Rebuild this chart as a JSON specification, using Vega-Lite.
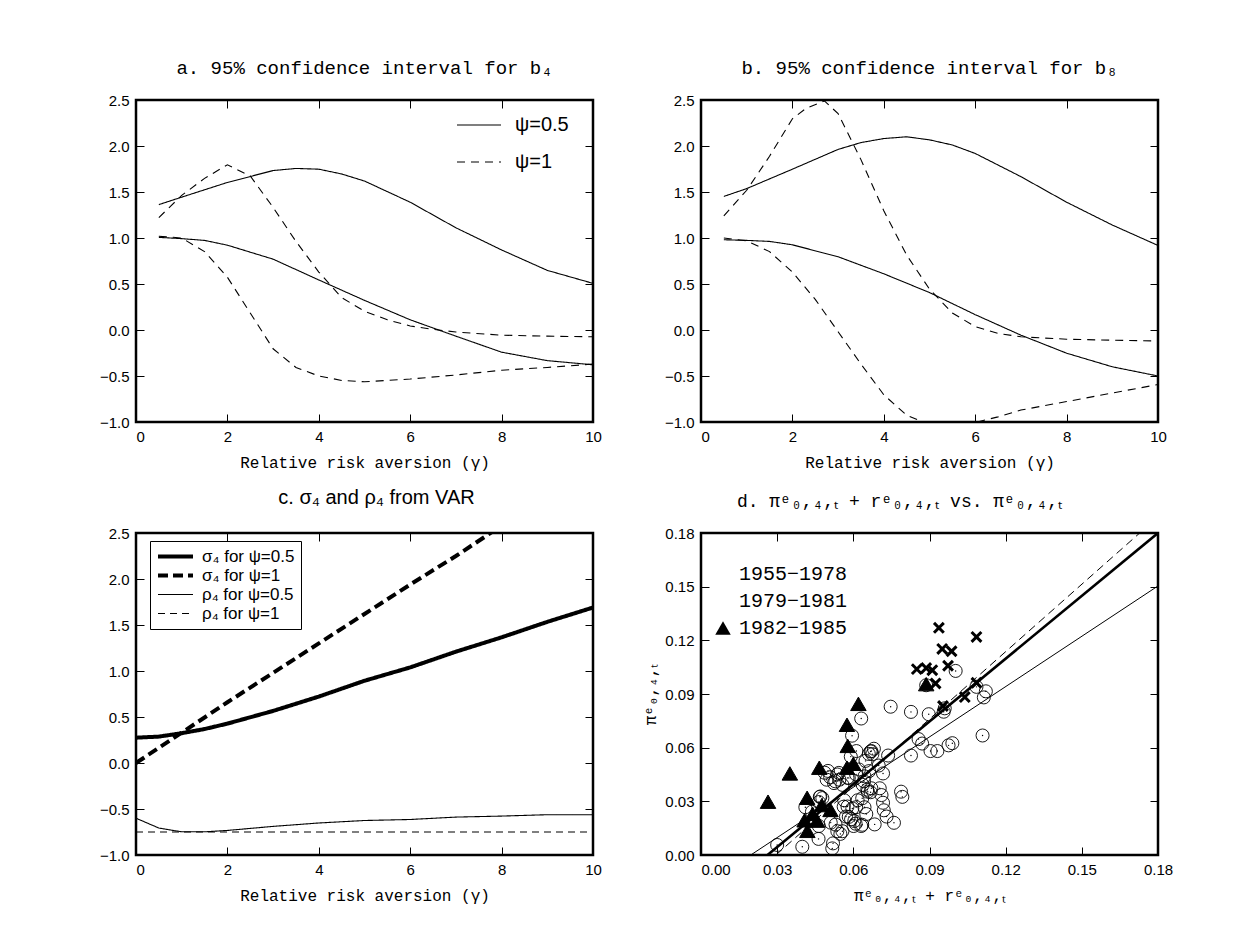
{
"$schema":"https://vega.github.io/schema/vega-lite/v6.json",
"background":"white",
"padding":{"left":98,"top":57,"right":5,"bottom":5},
"columns":2,
"bounds":"flush",
"spacing":{"row":111,"column":108},
"resolve":{"scale":{"x":"independent","y":"independent","strokeDash":"independent","strokeWidth":"independent","shape":"independent","fill":"independent","size":"independent"},"legend":{"strokeDash":"independent","strokeWidth":"independent","shape":"independent","fill":"independent","size":"independent"}},
"datasets":{
"a":[
{"g":0.5,"v":1.363,"psi":"ψ=0.5","bound":"u"},{"g":1,"v":1.444,"psi":"ψ=0.5","bound":"u"},{"g":2,"v":1.604,"psi":"ψ=0.5","bound":"u"},{"g":3,"v":1.733,"psi":"ψ=0.5","bound":"u"},{"g":3.5,"v":1.756,"psi":"ψ=0.5","bound":"u"},{"g":4,"v":1.748,"psi":"ψ=0.5","bound":"u"},{"g":4.5,"v":1.696,"psi":"ψ=0.5","bound":"u"},{"g":5,"v":1.619,"psi":"ψ=0.5","bound":"u"},{"g":6,"v":1.389,"psi":"ψ=0.5","bound":"u"},{"g":7,"v":1.111,"psi":"ψ=0.5","bound":"u"},{"g":8,"v":0.87,"psi":"ψ=0.5","bound":"u"},{"g":9,"v":0.648,"psi":"ψ=0.5","bound":"u"},{"g":10,"v":0.507,"psi":"ψ=0.5","bound":"u"},
{"g":0.5,"v":1.007,"psi":"ψ=0.5","bound":"l"},{"g":1,"v":0.993,"psi":"ψ=0.5","bound":"l"},{"g":1.5,"v":0.974,"psi":"ψ=0.5","bound":"l"},{"g":2,"v":0.922,"psi":"ψ=0.5","bound":"l"},{"g":3,"v":0.77,"psi":"ψ=0.5","bound":"l"},{"g":4,"v":0.544,"psi":"ψ=0.5","bound":"l"},{"g":5,"v":0.322,"psi":"ψ=0.5","bound":"l"},{"g":6,"v":0.111,"psi":"ψ=0.5","bound":"l"},{"g":7,"v":-0.067,"psi":"ψ=0.5","bound":"l"},{"g":8,"v":-0.241,"psi":"ψ=0.5","bound":"l"},{"g":9,"v":-0.333,"psi":"ψ=0.5","bound":"l"},{"g":10,"v":-0.378,"psi":"ψ=0.5","bound":"l"},
{"g":0.5,"v":1.222,"psi":"ψ=1","bound":"u"},{"g":1,"v":1.463,"psi":"ψ=1","bound":"u"},{"g":1.5,"v":1.648,"psi":"ψ=1","bound":"u"},{"g":2,"v":1.796,"psi":"ψ=1","bound":"u"},{"g":2.5,"v":1.674,"psi":"ψ=1","bound":"u"},{"g":3,"v":1.333,"psi":"ψ=1","bound":"u"},{"g":3.5,"v":0.963,"psi":"ψ=1","bound":"u"},{"g":4,"v":0.63,"psi":"ψ=1","bound":"u"},{"g":4.5,"v":0.352,"psi":"ψ=1","bound":"u"},{"g":5,"v":0.204,"psi":"ψ=1","bound":"u"},{"g":5.5,"v":0.111,"psi":"ψ=1","bound":"u"},{"g":6,"v":0.044,"psi":"ψ=1","bound":"u"},{"g":6.5,"v":0.007,"psi":"ψ=1","bound":"u"},{"g":7,"v":-0.022,"psi":"ψ=1","bound":"u"},{"g":8,"v":-0.056,"psi":"ψ=1","bound":"u"},{"g":9,"v":-0.067,"psi":"ψ=1","bound":"u"},{"g":10,"v":-0.074,"psi":"ψ=1","bound":"u"},
{"g":0.5,"v":1.019,"psi":"ψ=1","bound":"l"},{"g":1,"v":1.0,"psi":"ψ=1","bound":"l"},{"g":1.5,"v":0.852,"psi":"ψ=1","bound":"l"},{"g":2,"v":0.574,"psi":"ψ=1","bound":"l"},{"g":2.5,"v":0.185,"psi":"ψ=1","bound":"l"},{"g":3,"v":-0.204,"psi":"ψ=1","bound":"l"},{"g":3.5,"v":-0.407,"psi":"ψ=1","bound":"l"},{"g":4,"v":-0.5,"psi":"ψ=1","bound":"l"},{"g":4.5,"v":-0.548,"psi":"ψ=1","bound":"l"},{"g":5,"v":-0.563,"psi":"ψ=1","bound":"l"},{"g":6,"v":-0.533,"psi":"ψ=1","bound":"l"},{"g":7,"v":-0.489,"psi":"ψ=1","bound":"l"},{"g":8,"v":-0.437,"psi":"ψ=1","bound":"l"},{"g":9,"v":-0.407,"psi":"ψ=1","bound":"l"},{"g":10,"v":-0.37,"psi":"ψ=1","bound":"l"}
],
"b":[
{"g":0.5,"v":1.452,"psi":"ψ=0.5","bound":"u"},{"g":1,"v":1.537,"psi":"ψ=0.5","bound":"u"},{"g":2,"v":1.748,"psi":"ψ=0.5","bound":"u"},{"g":3,"v":1.963,"psi":"ψ=0.5","bound":"u"},{"g":3.5,"v":2.037,"psi":"ψ=0.5","bound":"u"},{"g":4,"v":2.081,"psi":"ψ=0.5","bound":"u"},{"g":4.5,"v":2.1,"psi":"ψ=0.5","bound":"u"},{"g":5,"v":2.067,"psi":"ψ=0.5","bound":"u"},{"g":5.5,"v":2.011,"psi":"ψ=0.5","bound":"u"},{"g":6,"v":1.919,"psi":"ψ=0.5","bound":"u"},{"g":7,"v":1.667,"psi":"ψ=0.5","bound":"u"},{"g":8,"v":1.389,"psi":"ψ=0.5","bound":"u"},{"g":9,"v":1.141,"psi":"ψ=0.5","bound":"u"},{"g":10,"v":0.919,"psi":"ψ=0.5","bound":"u"},
{"g":0.5,"v":0.981,"psi":"ψ=0.5","bound":"l"},{"g":1,"v":0.974,"psi":"ψ=0.5","bound":"l"},{"g":1.5,"v":0.963,"psi":"ψ=0.5","bound":"l"},{"g":2,"v":0.926,"psi":"ψ=0.5","bound":"l"},{"g":3,"v":0.796,"psi":"ψ=0.5","bound":"l"},{"g":4,"v":0.611,"psi":"ψ=0.5","bound":"l"},{"g":5,"v":0.407,"psi":"ψ=0.5","bound":"l"},{"g":6,"v":0.167,"psi":"ψ=0.5","bound":"l"},{"g":7,"v":-0.056,"psi":"ψ=0.5","bound":"l"},{"g":8,"v":-0.252,"psi":"ψ=0.5","bound":"l"},{"g":9,"v":-0.4,"psi":"ψ=0.5","bound":"l"},{"g":10,"v":-0.5,"psi":"ψ=0.5","bound":"l"},
{"g":0.5,"v":1.241,"psi":"ψ=1","bound":"u"},{"g":1,"v":1.519,"psi":"ψ=1","bound":"u"},{"g":1.5,"v":1.889,"psi":"ψ=1","bound":"u"},{"g":2,"v":2.296,"psi":"ψ=1","bound":"u"},{"g":2.3,"v":2.41,"psi":"ψ=1","bound":"u"},{"g":2.7,"v":2.49,"psi":"ψ=1","bound":"u"},{"g":3,"v":2.352,"psi":"ψ=1","bound":"u"},{"g":3.5,"v":1.852,"psi":"ψ=1","bound":"u"},{"g":4,"v":1.296,"psi":"ψ=1","bound":"u"},{"g":4.5,"v":0.815,"psi":"ψ=1","bound":"u"},{"g":5,"v":0.444,"psi":"ψ=1","bound":"u"},{"g":5.5,"v":0.185,"psi":"ψ=1","bound":"u"},{"g":6,"v":0.037,"psi":"ψ=1","bound":"u"},{"g":6.5,"v":-0.037,"psi":"ψ=1","bound":"u"},{"g":7,"v":-0.074,"psi":"ψ=1","bound":"u"},{"g":8,"v":-0.1,"psi":"ψ=1","bound":"u"},{"g":9,"v":-0.111,"psi":"ψ=1","bound":"u"},{"g":10,"v":-0.119,"psi":"ψ=1","bound":"u"},
{"g":0.5,"v":1.0,"psi":"ψ=1","bound":"l"},{"g":1,"v":0.97,"psi":"ψ=1","bound":"l"},{"g":1.5,"v":0.852,"psi":"ψ=1","bound":"l"},{"g":2,"v":0.63,"psi":"ψ=1","bound":"l"},{"g":2.5,"v":0.333,"psi":"ψ=1","bound":"l"},{"g":3,"v":-0.019,"psi":"ψ=1","bound":"l"},{"g":3.5,"v":-0.37,"psi":"ψ=1","bound":"l"},{"g":4,"v":-0.704,"psi":"ψ=1","bound":"l"},{"g":4.5,"v":-0.926,"psi":"ψ=1","bound":"l"},{"g":5,"v":-1.03,"psi":"ψ=1","bound":"l"},{"g":5.5,"v":-1.06,"psi":"ψ=1","bound":"l"},{"g":6,"v":-1.005,"psi":"ψ=1","bound":"l"},{"g":6.5,"v":-0.944,"psi":"ψ=1","bound":"l"},{"g":7,"v":-0.87,"psi":"ψ=1","bound":"l"},{"g":8,"v":-0.778,"psi":"ψ=1","bound":"l"},{"g":9,"v":-0.685,"psi":"ψ=1","bound":"l"},{"g":10,"v":-0.593,"psi":"ψ=1","bound":"l"}
],
"c":[
{"g":0,"v":0.275,"s":"σ₄ for ψ=0.5"},{"g":0.5,"v":0.287,"s":"σ₄ for ψ=0.5"},{"g":1,"v":0.324,"s":"σ₄ for ψ=0.5"},{"g":1.5,"v":0.369,"s":"σ₄ for ψ=0.5"},{"g":2,"v":0.428,"s":"σ₄ for ψ=0.5"},{"g":3,"v":0.566,"s":"σ₄ for ψ=0.5"},{"g":4,"v":0.722,"s":"σ₄ for ψ=0.5"},{"g":5,"v":0.894,"s":"σ₄ for ψ=0.5"},{"g":6,"v":1.039,"s":"σ₄ for ψ=0.5"},{"g":7,"v":1.21,"s":"σ₄ for ψ=0.5"},{"g":8,"v":1.366,"s":"σ₄ for ψ=0.5"},{"g":9,"v":1.534,"s":"σ₄ for ψ=0.5"},{"g":10,"v":1.69,"s":"σ₄ for ψ=0.5"},
{"g":0,"v":0.0,"s":"σ₄ for ψ=1"},{"g":1,"v":0.33,"s":"σ₄ for ψ=1"},{"g":2,"v":0.66,"s":"σ₄ for ψ=1"},{"g":3,"v":0.98,"s":"σ₄ for ψ=1"},{"g":4,"v":1.3,"s":"σ₄ for ψ=1"},{"g":5,"v":1.62,"s":"σ₄ for ψ=1"},{"g":6,"v":1.94,"s":"σ₄ for ψ=1"},{"g":7,"v":2.25,"s":"σ₄ for ψ=1"},{"g":8,"v":2.58,"s":"σ₄ for ψ=1"},
{"g":0,"v":-0.6,"s":"ρ₄ for ψ=0.5"},{"g":0.5,"v":-0.707,"s":"ρ₄ for ψ=0.5"},{"g":1,"v":-0.748,"s":"ρ₄ for ψ=0.5"},{"g":1.5,"v":-0.748,"s":"ρ₄ for ψ=0.5"},{"g":2,"v":-0.733,"s":"ρ₄ for ψ=0.5"},{"g":3,"v":-0.689,"s":"ρ₄ for ψ=0.5"},{"g":4,"v":-0.652,"s":"ρ₄ for ψ=0.5"},{"g":5,"v":-0.625,"s":"ρ₄ for ψ=0.5"},{"g":6,"v":-0.614,"s":"ρ₄ for ψ=0.5"},{"g":7,"v":-0.588,"s":"ρ₄ for ψ=0.5"},{"g":8,"v":-0.577,"s":"ρ₄ for ψ=0.5"},{"g":9,"v":-0.562,"s":"ρ₄ for ψ=0.5"},{"g":10,"v":-0.562,"s":"ρ₄ for ψ=0.5"},
{"g":0,"v":-0.75,"s":"ρ₄ for ψ=1"},{"g":5,"v":-0.75,"s":"ρ₄ for ψ=1"},{"g":10,"v":-0.75,"s":"ρ₄ for ψ=1"}
],
"fits":[
{"x":0.0262,"y":0,"line":"thick"},{"x":0.18,"y":0.18,"line":"thick"},
{"x":0.0196,"y":0,"line":"thin"},{"x":0.18,"y":0.1504,"line":"thin"},
{"x":0.0295,"y":0,"line":"dash"},{"x":0.1728,"y":0.18,"line":"dash"}
],
"sc":[
{"x":0.0747,"y":0.0829,"p":"1955−1978"},{"x":0.0827,"y":0.08,"p":"1955−1978"},{"x":0.0897,"y":0.0787,"p":"1955−1978"},{"x":0.0631,"y":0.0763,"p":"1955−1978"},{"x":0.0595,"y":0.0667,"p":"1955−1978"},{"x":0.0857,"y":0.0648,"p":"1955−1978"},{"x":0.0871,"y":0.0623,"p":"1955−1978"},{"x":0.0827,"y":0.0556,"p":"1955−1978"},{"x":0.0904,"y":0.0581,"p":"1955−1978"},{"x":0.0931,"y":0.0581,"p":"1955−1978"},{"x":0.0975,"y":0.0613,"p":"1955−1978"},{"x":0.099,"y":0.0625,"p":"1955−1978"},{"x":0.0671,"y":0.0581,"p":"1955−1978"},{"x":0.0661,"y":0.0565,"p":"1955−1978"},{"x":0.0681,"y":0.0594,"p":"1955−1978"},{"x":0.0612,"y":0.0581,"p":"1955−1978"},{"x":0.0737,"y":0.0556,"p":"1955−1978"},{"x":0.0717,"y":0.0456,"p":"1955−1978"},{"x":0.0611,"y":0.045,"p":"1955−1978"},{"x":0.0644,"y":0.044,"p":"1955−1978"},{"x":0.0487,"y":0.046,"p":"1955−1978"},{"x":0.0495,"y":0.0421,"p":"1955−1978"},{"x":0.0537,"y":0.045,"p":"1955−1978"},{"x":0.0545,"y":0.0421,"p":"1955−1978"},{"x":0.0524,"y":0.0402,"p":"1955−1978"},{"x":0.0557,"y":0.0392,"p":"1955−1978"},{"x":0.0577,"y":0.0431,"p":"1955−1978"},{"x":0.0637,"y":0.0392,"p":"1955−1978"},{"x":0.0657,"y":0.0354,"p":"1955−1978"},{"x":0.0671,"y":0.0373,"p":"1955−1978"},{"x":0.0704,"y":0.0373,"p":"1955−1978"},{"x":0.0711,"y":0.0335,"p":"1955−1978"},{"x":0.0717,"y":0.0292,"p":"1955−1978"},{"x":0.0468,"y":0.0325,"p":"1955−1978"},{"x":0.0464,"y":0.0296,"p":"1955−1978"},{"x":0.0411,"y":0.0267,"p":"1955−1978"},{"x":0.0437,"y":0.0242,"p":"1955−1978"},{"x":0.0564,"y":0.0306,"p":"1955−1978"},{"x":0.0577,"y":0.0271,"p":"1955−1978"},{"x":0.0617,"y":0.0306,"p":"1955−1978"},{"x":0.0611,"y":0.0267,"p":"1955−1978"},{"x":0.0644,"y":0.0267,"p":"1955−1978"},{"x":0.0651,"y":0.0229,"p":"1955−1978"},{"x":0.0571,"y":0.0215,"p":"1955−1978"},{"x":0.0591,"y":0.02,"p":"1955−1978"},{"x":0.0604,"y":0.019,"p":"1955−1978"},{"x":0.0601,"y":0.0162,"p":"1955−1978"},{"x":0.0631,"y":0.0162,"p":"1955−1978"},{"x":0.0684,"y":0.0171,"p":"1955−1978"},{"x":0.0731,"y":0.0215,"p":"1955−1978"},{"x":0.0788,"y":0.0354,"p":"1955−1978"},{"x":0.0793,"y":0.0325,"p":"1955−1978"},{"x":0.0511,"y":0.0181,"p":"1955−1978"},{"x":0.0537,"y":0.0133,"p":"1955−1978"},{"x":0.0557,"y":0.0133,"p":"1955−1978"},{"x":0.052,"y":0.0065,"p":"1955−1978"},{"x":0.0517,"y":0.0037,"p":"1955−1978"},{"x":0.0463,"y":0.009,"p":"1955−1978"},{"x":0.0399,"y":0.0046,"p":"1955−1978"},{"x":0.03,"y":0.0056,"p":"1955−1978"},{"x":0.0464,"y":0.0162,"p":"1955−1978"},{"x":0.1003,"y":0.1029,"p":"1955−1978"},{"x":0.0887,"y":0.0949,"p":"1955−1978"},{"x":0.1085,"y":0.094,"p":"1955−1978"},{"x":0.1122,"y":0.0915,"p":"1955−1978"},{"x":0.1114,"y":0.0881,"p":"1955−1978"},{"x":0.1109,"y":0.0668,"p":"1955−1978"},{"x":0.0956,"y":0.0801,"p":"1955−1978"},{"x":0.096,"y":0.082,"p":"1955−1978"},{"x":0.0509,"y":0.0435,"p":"1955−1978"},{"x":0.0529,"y":0.0412,"p":"1955−1978"},{"x":0.0543,"y":0.0459,"p":"1955−1978"},{"x":0.0582,"y":0.0431,"p":"1955−1978"},{"x":0.0622,"y":0.0478,"p":"1955−1978"},{"x":0.0648,"y":0.0526,"p":"1955−1978"},{"x":0.0668,"y":0.0579,"p":"1955−1978"},{"x":0.0675,"y":0.0564,"p":"1955−1978"},{"x":0.0662,"y":0.0469,"p":"1955−1978"},{"x":0.0642,"y":0.0412,"p":"1955−1978"},{"x":0.0655,"y":0.0365,"p":"1955−1978"},{"x":0.0668,"y":0.0351,"p":"1955−1978"},{"x":0.0635,"y":0.0317,"p":"1955−1978"},{"x":0.0596,"y":0.026,"p":"1955−1978"},{"x":0.0562,"y":0.027,"p":"1955−1978"},{"x":0.0582,"y":0.0213,"p":"1955−1978"},{"x":0.0609,"y":0.0175,"p":"1955−1978"},{"x":0.0635,"y":0.0169,"p":"1955−1978"},{"x":0.0549,"y":0.0118,"p":"1955−1978"},{"x":0.047,"y":0.0327,"p":"1955−1978"},{"x":0.0478,"y":0.0318,"p":"1955−1978"},{"x":0.05,"y":0.047,"p":"1955−1978"},{"x":0.07,"y":0.05,"p":"1955−1978"},{"x":0.076,"y":0.018,"p":"1955−1978"},{"x":0.072,"y":0.025,"p":"1955−1978"},{"x":0.059,"y":0.055,"p":"1955−1978"},{"x":0.053,"y":0.017,"p":"1955−1978"},
{"x":0.0937,"y":0.127,"p":"1979−1981"},{"x":0.095,"y":0.1152,"p":"1979−1981"},{"x":0.0987,"y":0.1139,"p":"1979−1981"},{"x":0.1085,"y":0.1219,"p":"1979−1981"},{"x":0.085,"y":0.1039,"p":"1979−1981"},{"x":0.0887,"y":0.1045,"p":"1979−1981"},{"x":0.0911,"y":0.1033,"p":"1979−1981"},{"x":0.0973,"y":0.1058,"p":"1979−1981"},{"x":0.0924,"y":0.0959,"p":"1979−1981"},{"x":0.1085,"y":0.0963,"p":"1979−1981"},{"x":0.1039,"y":0.0883,"p":"1979−1981"},{"x":0.0953,"y":0.0833,"p":"1979−1981"},
{"x":0.062,"y":0.0845,"p":"1982−1985"},{"x":0.0575,"y":0.0728,"p":"1982−1985"},{"x":0.0578,"y":0.061,"p":"1982−1985"},{"x":0.06,"y":0.051,"p":"1982−1985"},{"x":0.0575,"y":0.0488,"p":"1982−1985"},{"x":0.035,"y":0.0456,"p":"1982−1985"},{"x":0.0466,"y":0.0488,"p":"1982−1985"},{"x":0.0264,"y":0.0298,"p":"1982−1985"},{"x":0.0418,"y":0.032,"p":"1982−1985"},{"x":0.0408,"y":0.0194,"p":"1982−1985"},{"x":0.0457,"y":0.0192,"p":"1982−1985"},{"x":0.0419,"y":0.0135,"p":"1982−1985"},{"x":0.051,"y":0.0252,"p":"1982−1985"},{"x":0.0476,"y":0.0279,"p":"1982−1985"},{"x":0.0887,"y":0.0955,"p":"1982−1985"},{"x":0.044,"y":0.023,"p":"1982−1985"}
]
},
"concat":[
{
 "title":{"text":"a. 95% confidence interval for b₄"},
 "width":457,"height":322,
 "data":{"name":"a"},
 "layer":[
  {"mark":{"type":"line","color":"black","strokeWidth":1.1,"clip":true},
   "encoding":{
    "x":{"field":"g","type":"quantitative","scale":{"domain":[0,10],"nice":false},"axis":{"orient":"bottom","values":[0,2,4,6,8,10],"format":"d","title":"Relative risk aversion (γ)","labelAlign":{"condition":{"test":"datum.value === 0","value":"left"},"value":"center"}}},
    "y":{"field":"v","type":"quantitative","scale":{"domain":[-1,2.5],"nice":false,"zero":false},"axis":{"orient":"left","values":[-1,-0.5,0,0.5,1,1.5,2,2.5],"format":".1f","title":null}},
    "strokeDash":{"field":"psi","type":"nominal","scale":{"domain":["ψ=0.5","ψ=1"],"range":[[1,0],[8,6]]},"legend":{"title":null,"orient":"none","legendX":320,"legendY":2,"padding":0,"symbolType":"stroke","symbolSize":1936,"symbolStrokeWidth":1.1,"symbolStrokeColor":"black","labelFont":"Liberation Sans","labelFontSize":20,"labelOffset":13,"rowPadding":4}},
    "detail":{"field":"bound","type":"nominal"}
   }},
  {"mark":{"type":"point","opacity":0},
   "encoding":{
    "x":{"field":"g","type":"quantitative","axis":{"orient":"top","values":[0,2,4,6,8,10],"labels":false,"title":null}},
    "y":{"field":"v","type":"quantitative","axis":{"orient":"right","values":[-1,-0.5,0,0.5,1,1.5,2,2.5],"labels":false,"title":null}}
   }}
 ]
},
{
 "title":{"text":"b. 95% confidence interval for b₈"},
 "width":457,"height":322,
 "data":{"name":"b"},
 "layer":[
  {"mark":{"type":"line","color":"black","strokeWidth":1.1,"clip":true},
   "encoding":{
    "x":{"field":"g","type":"quantitative","scale":{"domain":[0,10],"nice":false},"axis":{"orient":"bottom","values":[0,2,4,6,8,10],"format":"d","title":"Relative risk aversion (γ)","labelAlign":{"condition":{"test":"datum.value === 0","value":"left"},"value":"center"}}},
    "y":{"field":"v","type":"quantitative","scale":{"domain":[-1,2.5],"nice":false,"zero":false},"axis":{"orient":"left","values":[-1,-0.5,0,0.5,1,1.5,2,2.5],"format":".1f","title":null}},
    "strokeDash":{"field":"psi","type":"nominal","scale":{"domain":["ψ=0.5","ψ=1"],"range":[[1,0],[8,6]]},"legend":null},
    "detail":{"field":"bound","type":"nominal"}
   }},
  {"mark":{"type":"point","opacity":0},
   "encoding":{
    "x":{"field":"g","type":"quantitative","axis":{"orient":"top","values":[0,2,4,6,8,10],"labels":false,"title":null}},
    "y":{"field":"v","type":"quantitative","axis":{"orient":"right","values":[-1,-0.5,0,0.5,1,1.5,2,2.5],"labels":false,"title":null}}
   }}
 ]
},
{
 "title":{"text":"c. σ₄ and ρ₄ from VAR","font":"Liberation Sans","fontSize":20,"dx":12},
 "width":457,"height":322,
 "data":{"name":"c"},
 "layer":[
  {"mark":{"type":"line","color":"black","clip":true},
   "encoding":{
    "x":{"field":"g","type":"quantitative","scale":{"domain":[0,10],"nice":false},"axis":{"orient":"bottom","values":[0,2,4,6,8,10],"format":"d","title":"Relative risk aversion (γ)","labelAlign":{"condition":{"test":"datum.value === 0","value":"left"},"value":"center"}}},
    "y":{"field":"v","type":"quantitative","scale":{"domain":[-1,2.5],"nice":false,"zero":false},"axis":{"orient":"left","values":[-1,-0.5,0,0.5,1,1.5,2,2.5],"format":".1f","title":null}},
    "strokeDash":{"field":"s","type":"nominal","scale":{"domain":["σ₄ for ψ=0.5","σ₄ for ψ=1","ρ₄ for ψ=0.5","ρ₄ for ψ=1"],"range":[[1,0],[10,5],[1,0],[7,5]]},"legend":{"title":null,"orient":"none","legendX":14,"legendY":8,"symbolType":"stroke","symbolSize":1225,"symbolStrokeColor":"black","labelFont":"Liberation Sans","labelFontSize":17,"labelOffset":7,"rowPadding":0,"clipHeight":19,"strokeColor":"black","padding":6,"fillColor":"white"}},
    "strokeWidth":{"field":"s","type":"nominal","scale":{"type":"ordinal","domain":["σ₄ for ψ=0.5","σ₄ for ψ=1","ρ₄ for ψ=0.5","ρ₄ for ψ=1"],"range":[4,4,1.1,1.1]},"legend":{"title":null,"orient":"none","legendX":14,"legendY":8,"symbolType":"stroke","symbolSize":1225,"symbolStrokeColor":"black","labelFont":"Liberation Sans","labelFontSize":17,"labelOffset":7,"rowPadding":0,"clipHeight":19,"strokeColor":"black","padding":6,"fillColor":"white"}}
   }},
  {"mark":{"type":"point","opacity":0},
   "encoding":{
    "x":{"field":"g","type":"quantitative","axis":{"orient":"top","values":[0,2,4,6,8,10],"labels":false,"title":null}},
    "y":{"field":"v","type":"quantitative","axis":{"orient":"right","values":[-1,-0.5,0,0.5,1,1.5,2,2.5],"labels":false,"title":null}}
   }}
 ]
},
{
 "title":{"text":"d. πᵉ₀,₄,ₜ + rᵉ₀,₄,ₜ vs. πᵉ₀,₄,ₜ","fontSize":18,"dx":-30},
 "width":457,"height":322,
 "layer":[
  {"data":{"name":"fits"},"transform":[{"filter":"datum.line === 'thin'"}],
   "mark":{"type":"line","color":"black","strokeWidth":1,"clip":true},
   "encoding":{
    "x":{"field":"x","type":"quantitative","scale":{"domain":[0,0.18],"nice":false},"axis":{"orient":"bottom","values":[0,0.03,0.06,0.09,0.12,0.15,0.18],"format":".2f","title":"πᵉ₀,₄,ₜ + rᵉ₀,₄,ₜ","labelAlign":{"condition":{"test":"datum.value === 0","value":"left"},"value":"center"}}},
    "y":{"field":"y","type":"quantitative","scale":{"domain":[0,0.18],"nice":false},"axis":{"orient":"left","values":[0,0.03,0.06,0.09,0.12,0.15,0.18],"format":".2f","title":"πᵉ₀,₄,ₜ","titlePadding":6}}
   }},
  {"data":{"name":"fits"},"transform":[{"filter":"datum.line === 'thick'"}],
   "mark":{"type":"line","color":"black","strokeWidth":2.6,"clip":true},
   "encoding":{"x":{"field":"x","type":"quantitative","axis":null},"y":{"field":"y","type":"quantitative","axis":null}}},
  {"data":{"name":"fits"},"transform":[{"filter":"datum.line === 'dash'"}],
   "mark":{"type":"line","color":"black","strokeWidth":1,"strokeDash":[8,5],"clip":true},
   "encoding":{"x":{"field":"x","type":"quantitative","axis":null},"y":{"field":"y","type":"quantitative","axis":null}}},
  {"data":{"name":"sc"},
   "mark":{"type":"point","filled":false,"color":"black","stroke":"black","opacity":1},
   "encoding":{
    "x":{"field":"x","type":"quantitative","axis":null},
    "y":{"field":"y","type":"quantitative","axis":null},
    "shape":{"field":"p","type":"nominal","scale":{"domain":["1955−1978","1979−1981","1982−1985"],"range":["circle","M-0.8,-0.8L0.8,0.8M-0.8,0.8L0.8,-0.8","triangle-up"]},"legend":{"title":null,"orient":"none","legendX":12,"legendY":31,"padding":0,"symbolStrokeColor":"black","labelFont":"Liberation Mono","labelFontSize":20,"labelOffset":6,"rowPadding":6,"encode":{"symbols":{"stroke":{"value":"black"}}}}},
    "fill":{"field":"p","type":"nominal","scale":{"domain":["1955−1978","1979−1981","1982−1985"],"range":["transparent","black","black"]},"legend":{"title":null,"orient":"none","legendX":12,"legendY":31,"padding":0,"symbolStrokeColor":"black","labelFont":"Liberation Mono","labelFontSize":20,"labelOffset":6,"rowPadding":6,"encode":{"symbols":{"stroke":{"value":"black"}}}}},
    "strokeWidth":{"field":"p","type":"nominal","scale":{"type":"ordinal","domain":["1955−1978","1979−1981","1982−1985"],"range":[0.9,3,1]},"legend":{"title":null,"orient":"none","legendX":12,"legendY":31,"padding":0,"symbolStrokeColor":"black","labelFont":"Liberation Mono","labelFontSize":20,"labelOffset":6,"rowPadding":6,"encode":{"symbols":{"stroke":{"value":"black"}}}}},
    "size":{"field":"p","type":"nominal","scale":{"type":"ordinal","domain":["1955−1978","1979−1981","1982−1985"],"range":[170,150,240]},"legend":{"title":null,"orient":"none","legendX":12,"legendY":31,"padding":0,"symbolStrokeColor":"black","labelFont":"Liberation Mono","labelFontSize":20,"labelOffset":6,"rowPadding":6,"encode":{"symbols":{"stroke":{"value":"black"}}}}}
   }},
  {"data":{"name":"sc"},"transform":[{"filter":"datum.p === '1955−1978'"}],
   "mark":{"type":"point","filled":true,"color":"black","size":2,"opacity":1},
   "encoding":{"x":{"field":"x","type":"quantitative","axis":null},"y":{"field":"y","type":"quantitative","axis":null}}},
  {"data":{"name":"fits"},
   "mark":{"type":"point","opacity":0},
   "encoding":{
    "x":{"field":"x","type":"quantitative","axis":{"orient":"top","values":[0,0.03,0.06,0.09,0.12,0.15,0.18],"labels":false,"title":null}},
    "y":{"field":"y","type":"quantitative","axis":{"orient":"right","values":[0,0.03,0.06,0.09,0.12,0.15,0.18],"labels":false,"title":null}}
   }}
 ]
}
],
"config":{
 "view":{"stroke":"black","strokeWidth":2.5},
 "axis":{"domain":false,"grid":false,"ticks":true,"tickColor":"black","tickSize":8,"offset":-8,"tickWidth":1,"labelFlush":false,"labelFont":"Liberation Sans","labelFontSize":15,"labelColor":"black","labelPadding":7,"titleColor":"black","titleFont":"Liberation Mono","titleFontSize":16,"titleFontWeight":"normal","titlePadding":10},
 "title":{"font":"Liberation Mono","fontSize":19,"fontWeight":"normal","color":"black","offset":15},
 "legend":{"labelColor":"black","symbolStrokeColor":"black"}
}
}
